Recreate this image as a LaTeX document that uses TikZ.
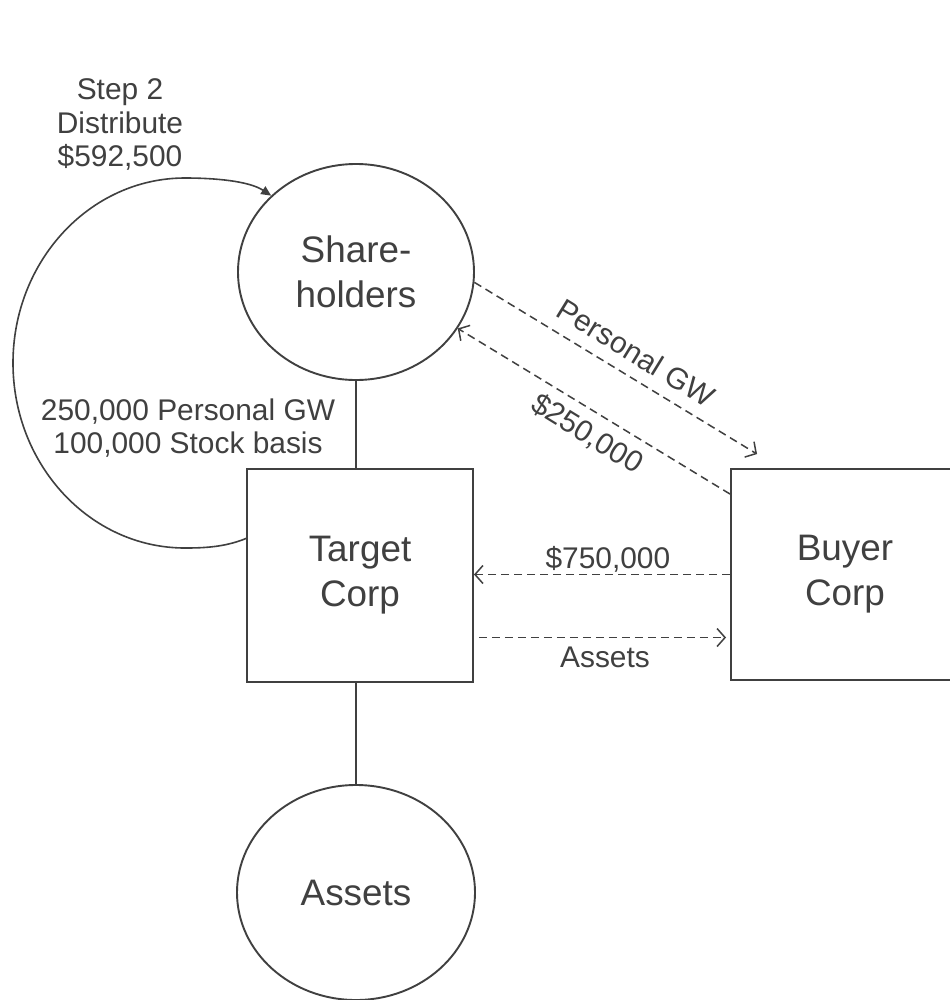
\documentclass[tikz,border=0pt]{standalone}
\usepackage{fontspec}
\setmainfont{Liberation Sans}
\usetikzlibrary{arrows.meta,shapes.geometric,calc}
\definecolor{ink}{HTML}{404040}
\begin{document}
\begin{tikzpicture}[x=1bp,y=-1bp,
  every node/.style={text=ink},
  bigtxt/.style={font=\fontsize{37}{45}\selectfont, align=center},
  smalltxt/.style={font=\fontsize{30}{33.5}\selectfont, align=center},
  party/.style={draw=ink, line width=1.9bp, ellipse, inner sep=0pt, bigtxt},
  corp/.style={draw=ink, line width=1.9bp, rectangle, inner sep=0pt, bigtxt},
  link/.style={draw=ink, line width=1.6bp},
  flow/.style={draw=ink, line width=1.5bp, dash pattern=on 8bp off 5bp,
    -{Straight Barb[length=8bp,width=18bp]}},
]
\useasboundingbox (0,0) rectangle (950,1000);
\fill[white] (0,0) rectangle (950,1000);

% parties and corporations
\node[party, minimum width=236bp, minimum height=216bp] (sh) at (356,272) {Share-\\holders};
\node[corp, minimum width=226bp, minimum height=213bp] (tc) at (360,575.5) {Target\\Corp};
\node[corp, minimum width=228bp, minimum height=211bp] (bc) at (845,574.5) {Buyer\\Corp};
\node[party, minimum width=238bp, minimum height=215bp] (as) at (356,892.5) {Assets};

% ownership links
\draw[link] (sh.south) -- (sh.south |- tc.north);
\draw[link] (as.north |- tc.south) -- (as.north);

% step 2: distribution loop back to the shareholders
\draw[link, -{Triangle[length=10bp,width=9bp]}]
  (tc.162) .. controls (225,547) and (205,548) .. (185,548)
  .. controls (90,548) and (13,465) .. (13,363)
  .. controls (13,261) and (90,178) .. (185,178)
  .. controls (215,178) and (249,181) .. (sh.138);
\node[smalltxt] (step) at (120,124.5) {Step 2\\Distribute\\\$592,500};
\node[smalltxt] (basis) at (188,428) {250,000 Personal GW\\100,000 Stock basis};

% personal goodwill sale
\coordinate (pgw) at ($(bc.north west)+(27,-14)$);
\draw[flow] (sh.-5) -- (pgw);
\node[smalltxt, rotate=-31.6] (pgwlbl) at (636,353) {Personal GW};
\coordinate (gwpay) at ($(bc.north west)+(0,26)$);
\draw[flow] (gwpay) -- (sh.-29);
\node[smalltxt, rotate=-31.6] (paylbl) at (587,434) {\$250,000};

% asset sale
\draw[flow] (bc.west) -- node[above=1bp, pos=0.477, inner sep=0pt, smalltxt] {\$750,000} (bc.west -| tc.east);
\coordinate (aout) at ($(tc.east)+(5,62)$);
\coordinate (ain) at ($(bc.west)+(-4,63)$);
\draw[flow] (aout) -- node[below=9bp, pos=0.51, inner sep=0pt, smalltxt] {Assets} (ain);
\end{tikzpicture}
\end{document}
